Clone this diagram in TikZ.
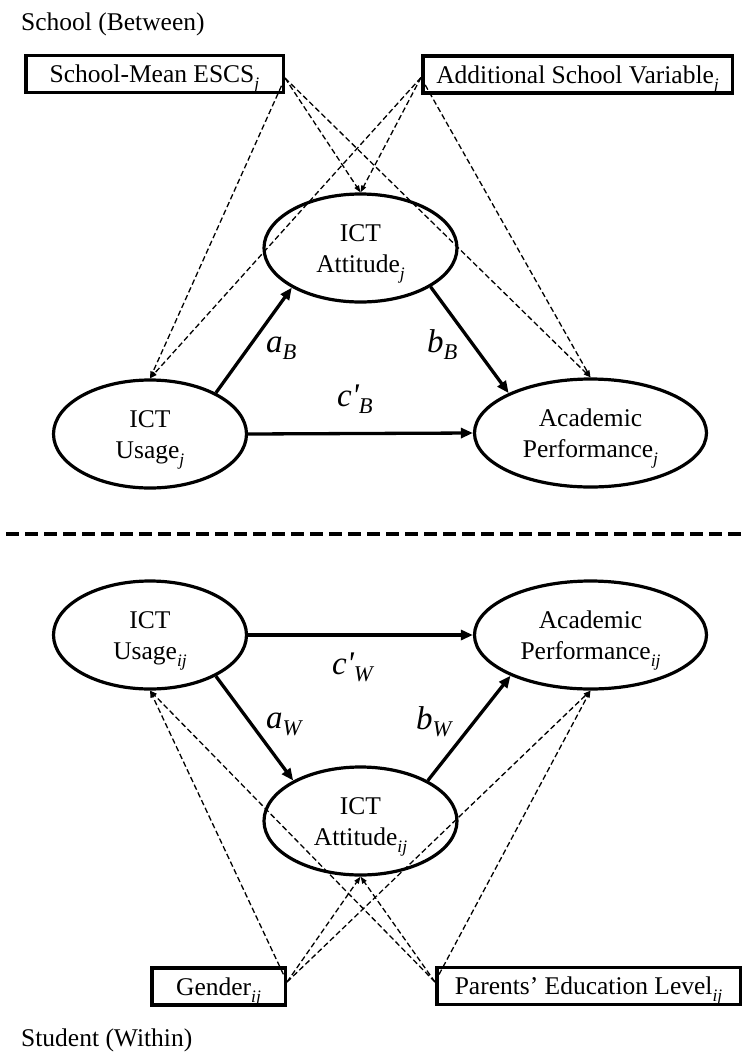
\documentclass[tikz,border=0pt]{standalone}
\usepackage{fontspec}
\setmainfont{Liberation Serif}
\usetikzlibrary{shapes.geometric,arrows.meta}

% subscript index (j, ij)
\newcommand\idx[1]{\raisebox{-7pt}{\fontsize{17.5}{17.5}\selectfont\itshape #1}}
% path coefficient: letter, optional prime, subscript
\newcommand\coef[3]{{\fontsize{33}{33}\selectfont\itshape #1#2}\raisebox{-7pt}{\fontsize{22.5}{22.5}\selectfont\itshape #3}}
% struts that place two-line labels inside the ellipses
\newcommand\topstrut{\rule{0pt}{30pt}}
\newcommand\botstrut{\rule[-12pt]{0pt}{12pt}}

\begin{document}
\begin{tikzpicture}[x=1pt,y=-1pt,
  every node/.style={font=\fontsize{25.5}{31}\selectfont},
  latent/.style={ellipse, draw, line width=3.2pt, align=center, inner sep=0pt,
                 minimum width=193pt, minimum height=108pt},
  latentwide/.style={latent, minimum width=232pt},
  obs/.style={rectangle, draw, line width=3.5pt, inner sep=0pt,
              minimum height=37pt, text height=19.5pt, text depth=2pt},
  effect/.style={line width=3.3pt, -{Triangle[length=12pt,width=10pt]}},
  cov/.style={line width=1.3pt, dash pattern=on 5.5pt off 3pt,
              -{Triangle[length=7pt,width=5pt]}},
  coeflab/.style={anchor=base west, inner sep=0pt},
  leveltitle/.style={anchor=base west, inner sep=0pt}]

\useasboundingbox (0,0) rectangle (743,1053);

% level titles
\node[leveltitle] (school)  at (21,30)   {School (Between)};
\node[leveltitle] (student) at (21,1046) {Student (Within)};

% ---- between (school) level ----
\node[obs, minimum width=257.5pt] (escs) at (154.5,74) {School-Mean ESCS\idx{j}};
\node[obs, minimum width=309.5pt] (addv) at (577.5,74.5) {Additional School Variable\idx{j}};

\node[latent]     (attj)  at (360.5,248) {\topstrut ICT\\Attitude\idx{j}\botstrut};
\node[latent]     (usej)  at (150,434)   {\topstrut ICT\\Usage\idx{j}\botstrut};
\node[latentwide] (perfj) at (590.5,433) {\topstrut Academic\\Performance\idx{j}\botstrut};

\draw[effect] (usej.32)  -- (attj.210);
\draw[effect] (attj.331) -- (perfj.154);
\draw[effect] (usej.east) -- (perfj.west);

\node[coeflab] (aB) at (266,352) {\coef{a}{}{B}};
\node[coeflab] (bB) at (427,352) {\coef{b}{}{B}};
\node[coeflab] (cB) at (337,406) {\coef{c}{\textquotesingle}{B}};

\draw[cov] ([yshift=-4pt]escs.east) -- (usej.north);
\draw[cov] ([yshift=-4pt]escs.east) -- (attj.north);
\draw[cov] ([yshift=-4pt]escs.east) -- (perfj.north);
\draw[cov] ([yshift=-3pt]addv.west) -- (usej.north);
\draw[cov] ([yshift=-3pt]addv.west) -- (attj.north);
\draw[cov] ([yshift=-3pt]addv.west) -- (perfj.north);

% level separator
\draw[line width=4pt, dash pattern=on 13pt off 6pt] (6,534) -- (743,534);

% ---- within (student) level ----
\node[latent]     (useij)  at (150,635)   {\topstrut ICT\\Usage\idx{ij}\botstrut};
\node[latentwide] (perfij) at (590.5,635) {\topstrut Academic\\Performance\idx{ij}\botstrut};
\node[latent]     (attij)  at (360.5,821) {\topstrut ICT\\Attitude\idx{ij}\botstrut};

\draw[effect] (useij.east) -- (perfij.west);
\draw[effect] (useij.-32) -- (attij.149);
\draw[effect] (attij.31)  -- (perfij.207);

\node[coeflab] (cW) at (332,674) {\coef{c}{\textquotesingle}{W}};
\node[coeflab] (aW) at (266,728) {\coef{a}{}{W}};
\node[coeflab] (bW) at (416,729) {\coef{b}{}{W}};

\node[obs, minimum width=133.5pt] (gend) at (218.5,986.5) {Gender\idx{ij}};
\node[obs, minimum width=303.5pt] (pedu) at (588.5,986)   {Parents’ Education Level\idx{ij}};

\draw[cov] ([yshift=4.5pt]gend.east) -- (useij.south);
\draw[cov] ([yshift=4.5pt]gend.east) -- (attij.south);
\draw[cov] ([yshift=4.5pt]gend.east) -- (perfij.south);
\draw[cov] ([yshift=4pt]pedu.west) -- (useij.south);
\draw[cov] ([yshift=4pt]pedu.west) -- (attij.south);
\draw[cov] ([yshift=4pt]pedu.west) -- (perfij.south);

\end{tikzpicture}
\end{document}
